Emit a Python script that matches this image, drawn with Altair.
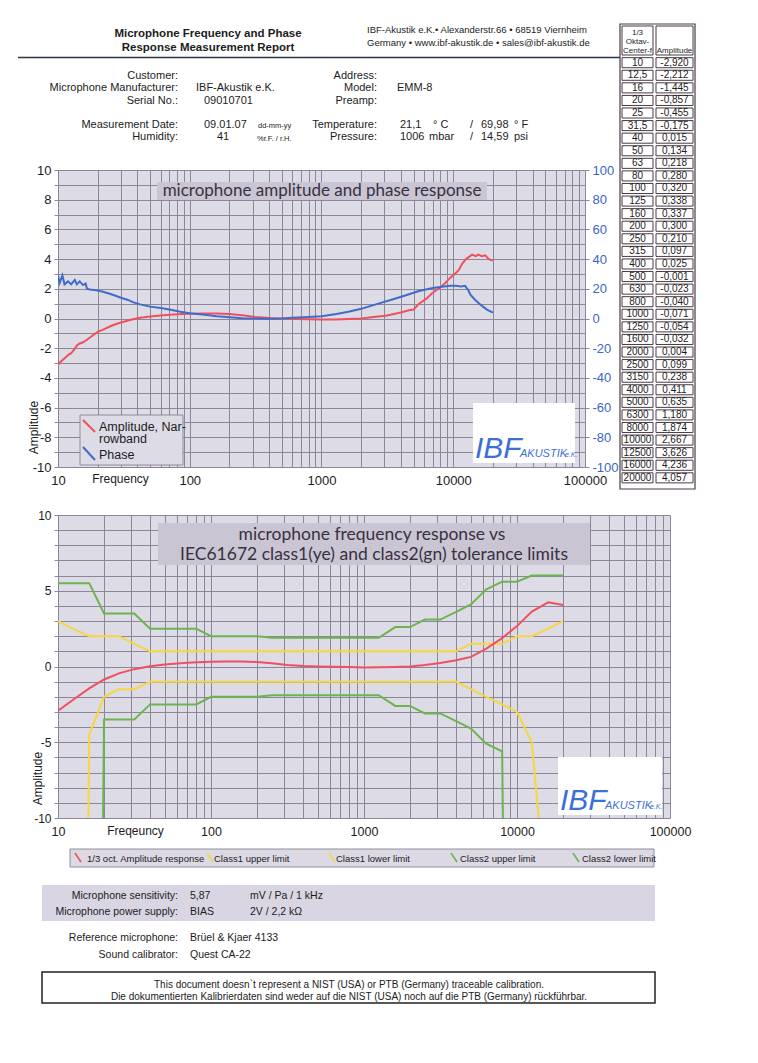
import altair as alt
import pandas as pd

# ---------------- data ----------------
oct_f = [10, 12.5, 16, 20, 25, 31.5, 40, 50, 63, 80, 100, 125, 160, 200, 250, 315, 400, 500,
         630, 800, 1000, 1250, 1600, 2000, 2500, 3150, 4000, 5000, 6300, 8000, 10000, 12500,
         16000, 20000]
oct_amp = [-2.920, -2.212, -1.445, -0.857, -0.455, -0.175, 0.015, 0.134, 0.218, 0.280, 0.320,
           0.338, 0.337, 0.300, 0.210, 0.097, 0.025, -0.001, -0.023, -0.040, -0.071, -0.054,
           -0.032, 0.004, 0.099, 0.238, 0.411, 0.635, 1.180, 1.874, 2.667, 3.626, 4.236, 4.057]

# IEC 61672 tolerance limits as drawn (-100 = off the chart / -inf)
c1_upper = [3.0, 2.5, 2.0, 2.0, 2.0, 1.5, 1.0, 1.0, 1.0, 1.0, 1.0, 1.0, 1.0, 1.0, 1.0, 1.0, 1.0,
            1.0, 1.0, 1.0, 1.0, 1.0, 1.0, 1.0, 1.0, 1.0, 1.0, 1.5, 1.5, 1.5, 2.0, 2.0, 2.5, 3.0]
c1_lower = [-100, -100, -4.5, -2.0, -1.5, -1.5, -1.0, -1.0, -1.0, -1.0, -1.0, -1.0, -1.0, -1.0,
            -1.0, -1.0, -1.0, -1.0, -1.0, -1.0, -1.0, -1.0, -1.0, -1.0, -1.0, -1.0, -1.0, -1.5,
            -2.0, -2.5, -3.0, -5.0, -17.0, -100]
c2_upper = [5.5, 5.5, 5.5, 3.5, 3.5, 3.5, 2.5, 2.5, 2.5, 2.5, 2.0, 2.0, 2.0, 2.0, 1.9, 1.9, 1.9,
            1.9, 1.9, 1.9, 1.9, 1.9, 2.6, 2.6, 3.1, 3.1, 3.6, 4.1, 5.1, 5.6, 5.6, 6.0, 6.0, 6.0]
c2_lower = [-100, -100, -100, -3.5, -3.5, -3.5, -2.5, -2.5, -2.5, -2.5, -2.0, -2.0, -2.0, -2.0,
            -1.9, -1.9, -1.9, -1.9, -1.9, -1.9, -1.9, -1.9, -2.6, -2.6, -3.1, -3.1, -3.6, -4.1,
            -5.1, -5.6, -100, -100, -100, -100]

# narrowband amplitude (chart 1, left axis, dB)
nb_f = [10, 10.5, 11, 11.5, 12, 12.5, 13, 13.5, 14, 14.5, 15.5, 16.5, 18, 20, 22, 25, 28, 32, 37,
        42, 50, 63, 80, 100, 125, 160, 200, 250, 315, 400, 500, 630, 800, 1000, 1250, 1600, 2000,
        2500, 3150, 4000, 4600, 5000, 5500, 6300, 6900, 8000, 8500, 9500, 10400, 11000, 11700,
        12500, 13900, 14800, 15500, 16500, 17500, 18600, 20000]
nb_amp = [-3.1, -2.9, -2.75, -2.6, -2.45, -2.35, -2.2, -2.0, -1.8, -1.7, -1.6, -1.45, -1.2, -0.9,
          -0.75, -0.52, -0.35, -0.2, -0.05, 0.05, 0.14, 0.22, 0.28, 0.32, 0.34, 0.34, 0.3, 0.22,
          0.1, 0.03, 0.0, -0.03, -0.05, -0.07, -0.06, -0.03, 0.0, 0.1, 0.2, 0.4, 0.55, 0.6, 1.0,
          1.35, 1.7, 2.1, 2.3, 2.75, 3.05, 3.25, 3.7, 4.0, 4.3, 4.2, 4.3, 4.2, 4.25, 4.0, 3.9]

# phase (chart 1, right axis, degrees)
ph_f = [10, 10.3, 10.8, 11.2, 11.9, 12.6, 13.4, 13.9, 14.6, 15.5, 16.2, 16.6, 17.4, 19.5, 22, 25,
        28, 30, 34, 37, 42, 50, 60, 70, 85, 100, 130, 160, 200, 250, 300, 400, 500, 600, 800,
        1000, 1300, 1600, 2000, 2700, 3500, 4500, 5500, 7000, 8500, 9500, 10500, 11500, 12300,
        13000, 13500, 14500, 16000, 18000, 20000]
ph_deg = [29, 24, 29, 23, 25, 23, 26, 23, 25, 22.5, 23.5, 20, 19.5, 19, 18, 16.5, 15, 14, 12.5,
          11, 9.5, 8, 7, 6, 4.5, 3.5, 2.5, 1.5, 0.8, 0.2, 0, -0.2, 0, 0.5, 1, 1.5, 3, 4.5, 6.5,
          10, 13, 16, 18.5, 20.5, 21.5, 22, 22, 21.5, 22, 19, 16, 13, 9.5, 6, 4]

# ---------------- styles ----------------
FONT = "Liberation Sans"
TFONT = "Lato"
PLOT_BG = "#dddbe6"
GRID = "#8b8796"
BOXBG = "#c9c5d3"
TITLE_TXT = "#3b3040"
RED = "#f0505e"
BLUE = "#3f6cc8"
BLUE_TXT = "#3c64c8"
YEL = "#f8d63e"
GRN = "#6cb450"
LOGO = "#3d6fd8"
INK = "#1c1c1c"

dummy = pd.DataFrame({"d": [0]})


def helpers(ox, oy):
    def txt(s, x, y, size=11, align="left", color=INK, weight="normal", font=FONT,
            baseline="alphabetic", style=None):
        mk = dict(align=align, baseline=baseline, fontSize=size, color=color,
                  fontWeight=weight, font=font)
        if style:
            mk["fontStyle"] = style
        return alt.Chart(dummy).mark_text(**mk).encode(
            x=alt.value(x - ox), y=alt.value(y - oy), text=alt.value(s))

    def rect(x1, y1, x2, y2, fill=None, stroke=None, sw=1.0):
        mk = {}
        if fill:
            mk["fill"] = fill
        else:
            mk["fill"] = "white"
            mk["fillOpacity"] = 0
        if stroke:
            mk["stroke"] = stroke
            mk["strokeWidth"] = sw
        return alt.Chart(dummy).mark_rect(**mk).encode(
            x=alt.value(x1 - ox), x2=alt.value(x2 - ox),
            y=alt.value(y1 - oy), y2=alt.value(y2 - oy))

    def seg(x1, y1, x2, y2, color, sw=1.5):
        return alt.Chart(dummy).mark_rule(color=color, strokeWidth=sw).encode(
            x=alt.value(x1 - ox), x2=alt.value(x2 - ox),
            y=alt.value(y1 - oy), y2=alt.value(y2 - oy))

    return txt, rect, seg


def logo(ox, oy, x1, y1, x2, y2):
    txt, rect, seg = helpers(ox, oy)
    return [
        rect(x1, y1, x2, y2, fill="white"),
        txt("IBF", x1 + 2, y2 - 5, size=30, color=LOGO, style="italic"),
        txt("AKUSTIK", x1 + 47, y2 - 6, size=11, color=LOGO, style="italic"),
        txt("e.K.", x1 + 92, y2 - 6, size=7, color=LOGO, style="italic"),
    ]


# ---------------- canvas (header, table, footer) ----------------
# all charts share their left edge at page x = 58
OX, OY = 58, 8
txt, rect, seg = helpers(OX, OY)
canvas_layers = [rect(8, 8, 9, 9, fill="white")]  # page anchor (top-left)

canvas_layers += [
    txt("Microphone Frequency and Phase", 208, 37, size=11.5, align="center", weight="bold"),
    txt("Response Measurement Report", 208, 51, size=11.5, align="center", weight="bold"),
    txt("IBF-Akustik e.K.\u2022 Alexanderstr.66 \u2022 68519 Viernheim", 367, 33, size=9.5),
    txt("Germany \u2022 www.ibf-akustik.de \u2022 sales@ibf-akustik.de", 367, 46, size=9.5),
    seg(18, 57.5, 620, 57.5, "#2a3442", 1.6),
]
for s, y in [("Customer:", 79), ("Microphone Manufacturer:", 91), ("Serial No.:", 104),
             ("Measurement Date:", 128), ("Humidity:", 140)]:
    canvas_layers.append(txt(s, 178, y, size=11, align="right"))
for s, y in [("Address:", 79), ("Model:", 91), ("Preamp:", 104), ("Temperature:", 128),
             ("Pressure:", 140)]:
    canvas_layers.append(txt(s, 377, y, size=11, align="right"))
canvas_layers += [
    txt("IBF-Akustik e.K.", 196, 91, size=11),
    txt("09010701", 204, 104, size=11),
    txt("EMM-8", 397, 91, size=11),
    txt("09.01.07", 204, 128, size=11),
    txt("dd-mm-yy", 258, 128, size=7.5),
    txt("41", 217, 140, size=11),
    txt("%r.F. / r.H.", 257, 141, size=7.5),
    txt("21,1", 400, 128, size=11), txt("\u00b0 C", 433, 128, size=11),
    txt("/", 470, 128, size=11), txt("69,98", 481, 128, size=11),
    txt("\u00b0 F", 514, 128, size=11),
    txt("1006", 400, 140, size=11), txt("mbar", 429, 140, size=11),
    txt("/", 470, 140, size=11), txt("14,59", 481, 140, size=11),
    txt("psi", 514, 140, size=11),
]

# table on the right
TBL_Y0 = 56.4
TBL_P = 12.58


def fmt_f(v):
    return str(int(v)) if float(v).is_integer() else str(v).replace(".", ",")


tbl = pd.DataFrame({"i": list(range(len(oct_f))),
                    "f": [fmt_f(v) for v in oct_f],
                    "a": [f"{v:.3f}".replace(".", ",") for v in oct_amp]})
ysc = alt.Scale(domain=[0, len(oct_f)], range=[TBL_Y0 - OY, TBL_Y0 + len(oct_f) * TBL_P - OY])
tb = alt.Chart(tbl).transform_calculate(r0="datum.i + 0.1", r1="datum.i + 0.9",
                                        rm="datum.i + 0.5")
BORDER = "#4a3a48"
canvas_layers += [
    rect(620, 24, 695, 489, fill="white", stroke=BORDER, sw=1.2),
    rect(622, 26, 653, 55, fill="white", stroke=BORDER, sw=1),
    rect(656, 26, 693, 55, fill="white", stroke=BORDER, sw=1),
    txt("1/3", 637.5, 35, size=8, align="center"),
    txt("Oktav-", 637.5, 44, size=8, align="center"),
    txt("Center-f", 637.5, 53, size=8, align="center"),
    txt("Amplitude", 674.5, 53, size=8, align="center"),
    tb.mark_rect(fill="white", stroke=BORDER, strokeWidth=1).encode(
        x=alt.value(622 - OX), x2=alt.value(653 - OX),
        y=alt.Y("r0:Q", scale=ysc, axis=None), y2="r1:Q"),
    tb.mark_rect(fill="white", stroke=BORDER, strokeWidth=1).encode(
        x=alt.value(656 - OX), x2=alt.value(693 - OX),
        y=alt.Y("r0:Q", scale=ysc, axis=None), y2="r1:Q"),
    tb.mark_text(fontSize=10, font=FONT, color=INK, baseline="middle").encode(
        x=alt.value(637.5 - OX), y=alt.Y("rm:Q", scale=ysc, axis=None), text="f:N"),
    tb.mark_text(fontSize=10, font=FONT, color=INK, baseline="middle").encode(
        x=alt.value(674.5 - OX), y=alt.Y("rm:Q", scale=ysc, axis=None), text="a:N"),
]

# chart-2 legend strip
canvas_layers += [
    rect(70, 849, 654, 867, fill="#dcd9e5", stroke="#8f8f98", sw=1),
    seg(75, 853, 81, 862, RED, 1.6), txt("1/3 oct. Amplitude response", 87, 862, size=9.5),
    seg(207, 853, 213, 862, YEL, 1.6), txt("Class1 upper limit", 214, 862, size=9.5),
    seg(329, 853, 335, 862, YEL, 1.6), txt("Class1 lower limit", 336, 862, size=9.5),
    seg(451, 853, 457, 862, GRN, 1.6), txt("Class2 upper limit", 460, 862, size=9.5),
    seg(573, 853, 579, 862, GRN, 1.6), txt("Class2 lower limit", 582, 862, size=9.5),
]

# info band and footer
canvas_layers += [
    rect(42, 885, 655, 921, fill="#d9d5e3"),
    txt("Microphone sensitivity:", 178, 899, size=10.5, align="right"),
    txt("5,87", 190, 899, size=10.5), txt("mV / Pa / 1 kHz", 250, 899, size=10.5),
    txt("Microphone  power supply:", 178, 915, size=10.5, align="right"),
    txt("BIAS", 190, 915, size=10.5), txt("2V / 2,2 k\u03a9", 250, 915, size=10.5),
    txt("Reference microphone:", 178, 941, size=10.5, align="right"),
    txt("Br\u00fcel & Kjaer 4133", 190, 941, size=10.5),
    txt("Sound calibrator:", 178, 958, size=10.5, align="right"),
    txt("Quest CA-22", 190, 958, size=10.5),
    rect(42, 972, 655, 1003, stroke="#222222", sw=1.5),
    txt("This document doesn`t represent a NIST (USA) or PTB (Germany) traceable calibration.",
        349, 988, size=10, align="center"),
    txt("Die dokumentierten Kalibrierdaten sind weder auf die NIST (USA) noch  auf die PTB "
        "(Germany) r\u00fcckf\u00fchrbar.", 349, 1000, size=10, align="center"),
]

canvas = alt.layer(*canvas_layers).properties(width=612, height=162)

# ---------------- axes ----------------
x_vals = [m * 10 ** e for e in range(1, 5) for m in range(1, 10)] + [100000]
DEC = "indexof([10,100,1000,10000,100000], datum.value) >= 0 ? toString(datum.value) : ''"


def xaxis(title, tx, ty, size):
    return alt.Axis(values=x_vals, labelExpr=DEC, grid=True, gridColor=GRID,
                    gridOpacity=1, gridWidth=1, ticks=False, domain=False, labelFlush=False,
                    labelOverlap=False, labelPadding=7, labelFontSize=size, labelFont=FONT,
                    labelColor=INK, title=title, titleX=tx, titleY=ty, titleAlign="center",
                    titleBaseline="middle", titleFontWeight="normal", titleFontSize=12,
                    titleFont=FONT, titleColor=INK)


def yaxis(step, size, tx, ty):
    expr = f"datum.value % {step} == 0 ? toString(datum.value) : ''"
    return alt.Axis(values=list(range(-10, 11)), labelExpr=expr, grid=True, gridColor=GRID,
                    gridOpacity=1, gridWidth=1, ticks=True, tickSize=4, tickColor=GRID,
                    domain=False, labelOverlap=False, labelFlush=False, labelFontSize=size,
                    labelFont=FONT, labelColor=INK, labelPadding=3, title="Amplitude",
                    titleX=tx, titleY=ty, titleAlign="center", titleBaseline="middle",
                    titleFontWeight="normal", titleFontSize=12, titleFont=FONT,
                    titleColor=INK)


# ---------------- chart 1 ----------------
C1X, C1Y = 58, 170
W1, H1 = 527, 297
t1, r1, s1 = helpers(C1X, C1Y)
X1 = alt.X("f:Q", scale=alt.Scale(type="log", domain=[10, 100000], nice=False),
           axis=xaxis("Frequency", 62, 11, 13))
nb_df = pd.DataFrame({"f": nb_f, "a": nb_amp})
ph_df = pd.DataFrame({"f": ph_f, "p": ph_deg})

amp_line = alt.Chart(nb_df).mark_line(color=RED, strokeWidth=2, clip=True).encode(
    x=X1,
    y=alt.Y("a:Q", scale=alt.Scale(domain=[-10, 10], nice=False),
            axis=yaxis(2, 13, -25, 257)))
ph_line = alt.Chart(ph_df).mark_line(color=BLUE, strokeWidth=2, clip=True).encode(
    x=X1,
    y=alt.Y("p:Q", scale=alt.Scale(domain=[-100, 100], nice=False), title=None,
            axis=alt.Axis(orient="right", values=list(range(-100, 101, 20)), grid=False,
                          labelExpr="toString(datum.value)",
                          ticks=True, tickSize=4, tickColor=GRID, domain=False,
                          labelOverlap=False, labelFlush=False, labelFontSize=13,
                          labelFont=FONT, labelColor=BLUE_TXT, labelPadding=3)))

deco1 = [
    r1(157, 182, 487, 200, fill=BOXBG),
    t1("microphone amplitude and phase response", 322, 191, size=17, align="center",
       baseline="middle", font=TFONT, color=TITLE_TXT),
    r1(80, 415, 183, 465, fill="#dddbe6", stroke="#8f8d96", sw=1),
    s1(83, 420, 95, 432, RED, 2), t1("Amplitude, Nar-", 99, 431, size=12.5),
    t1("rowband", 99, 443, size=12.5),
    s1(83, 447, 95, 460, BLUE, 2), t1("Phase", 99, 459, size=12.5),
] + logo(C1X, C1Y, 473, 403, 575, 463)

chart1 = alt.layer(amp_line, ph_line, *deco1).resolve_scale(y="independent").properties(
    width=W1, height=H1, view=alt.ViewBackground(fill=PLOT_BG, stroke=None))

# ---------------- chart 2 ----------------
C2X, C2Y = 58, 515
W2, H2 = 612, 303
t2, r2, s2 = helpers(C2X, C2Y)
X2 = alt.X("f:Q", scale=alt.Scale(type="log", domain=[10, 100000], nice=False),
           axis=xaxis("Freqeuncy", 77, 12, 12.5))
Y2 = alt.Y("v:Q", scale=alt.Scale(domain=[-10, 10], nice=False),
           axis=yaxis(5, 12, -21, 263))


def series(vals, color):
    df = pd.DataFrame({"f": oct_f, "v": vals})
    return alt.Chart(df).mark_line(color=color, strokeWidth=2, clip=True).encode(x=X2, y=Y2)


lines2 = [series(c2_upper, GRN), series(c2_lower, GRN), series(c1_upper, YEL),
          series(c1_lower, YEL), series(oct_amp, RED)]
deco2 = [
    r2(158, 523, 590, 565, fill=BOXBG),
    t2("microphone frequency response vs", 372, 535, size=17.5, align="center",
       baseline="middle", font=TFONT, color=TITLE_TXT),
    t2("IEC61672 class1(ye) and class2(gn) tolerance limits", 374, 555, size=17.5,
       align="center", baseline="middle", font=TFONT, color=TITLE_TXT),
] + logo(C2X, C2Y, 558, 757, 662, 815)

chart2 = alt.layer(*lines2, *deco2).properties(
    width=W2, height=H2, view=alt.ViewBackground(fill=PLOT_BG, stroke=None))


# ---------------- layout ----------------
def spacer(w, h):
    return alt.Chart(dummy).mark_point(opacity=0).encode(
        x=alt.value(0), y=alt.value(0)).properties(width=w, height=h)


chart = alt.vconcat(canvas, chart1, spacer(10, 515 - 467), chart2, spacing=0,
                    bounds="flush").properties(padding=0).configure(
    background="white").configure_view(stroke=None)

chart.save("out.html", embed_options={"renderer": "svg", "actions": False})
